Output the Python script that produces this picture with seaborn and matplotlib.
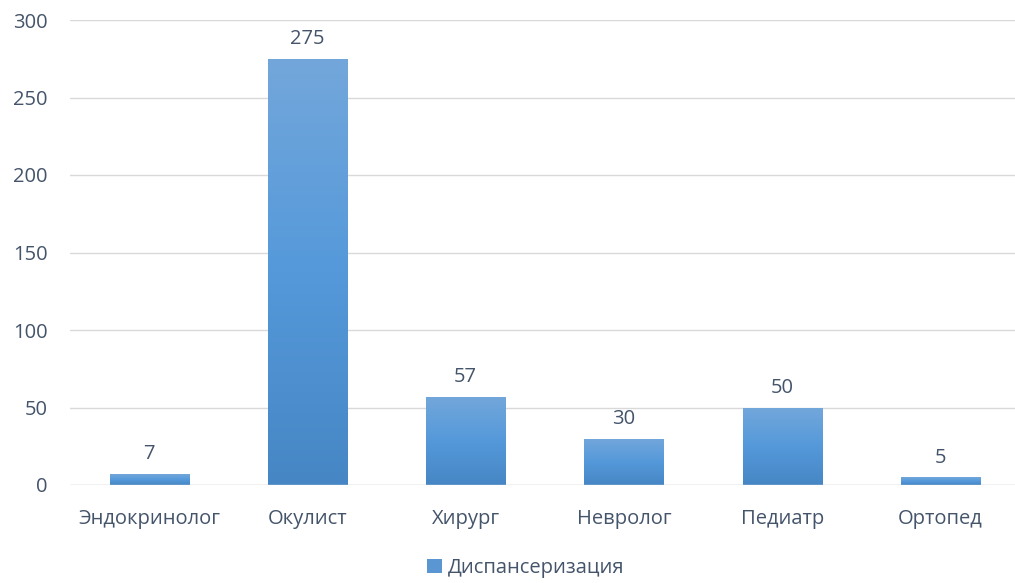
import numpy as np
import pandas as pd
import matplotlib
matplotlib.use("Agg")
import matplotlib.pyplot as plt
import matplotlib.patches as mpatches
from matplotlib.colors import LinearSegmentedColormap
import seaborn as sns

categories = ["Эндокринолог", "Окулист", "Хирург", "Невролог", "Педиатр", "Ортопед"]
values = [7, 275, 57, 30, 50, 5]
series_name = "Диспансеризация"

sns.set_theme(style="white")
plt.rcParams['font.family'] = ['Open Sans', 'DejaVu Sans']

text_color = "#44546A"
top_color = "#73A7DB"
mid_color = "#5599DA"
bottom_color = "#4686C5"
fs = 14.5

df = pd.DataFrame({"cat": categories, "val": values})

fig = plt.figure(figsize=(10.15, 5.83), dpi=100)
ax = fig.add_axes([70/1015, 1-485/583, (1015-70)/1015, 465/583])

sns.barplot(data=df, x="cat", y="val", ax=ax, width=0.5, color=bottom_color,
            saturation=1, edgecolor="none")

ax.set_yticks(np.arange(0, 301, 50))
ax.yaxis.grid(True, color="#D9D9D9", linewidth=1)
ax.set_axisbelow(True)
for s in ax.spines.values():
    s.set_visible(False)
ax.set_xlabel("")
ax.set_ylabel("")
ax.tick_params(axis="both", length=0, labelsize=fs, colors=text_color)
ax.tick_params(axis="y", pad=16)
ax.tick_params(axis="x", pad=17)

cmap = LinearSegmentedColormap.from_list(
    "g", [(0.0, bottom_color), (0.5, mid_color), (1.0, top_color)])
grad = np.linspace(0, 1, 256).reshape(-1, 1)
for i, p in enumerate(list(ax.patches)):
    x0, y0 = p.get_x(), p.get_y()
    w, h = p.get_width(), p.get_height()
    im = ax.imshow(grad, cmap=cmap, origin="lower", aspect="auto",
                   extent=[x0, x0 + w, 0, h], zorder=p.get_zorder() + 0.1)
    im.set_clip_path(p)
    ax.annotate(f"{values[i]}", (x0 + w / 2, y0 + h), xytext=(0, 7),
                textcoords="offset points", ha="center", va="bottom",
                fontsize=fs, color=text_color)
ax.axhline(0, color="#D9D9D9", linewidth=1, zorder=5)
ax.set_xlim(-0.5, 5.47)
ax.set_ylim(0, 300)

handle = mpatches.Patch(facecolor="#5A96D2", edgecolor="none", label=series_name)
fig.legend(handles=[handle], loc="center", bbox_to_anchor=(0.518, 1 - 568/583),
           frameon=False, fontsize=fs, labelcolor=text_color,
           handlelength=0.7, handleheight=0.7, handletextpad=0.3)

fig.savefig("out.png", dpi=100)
